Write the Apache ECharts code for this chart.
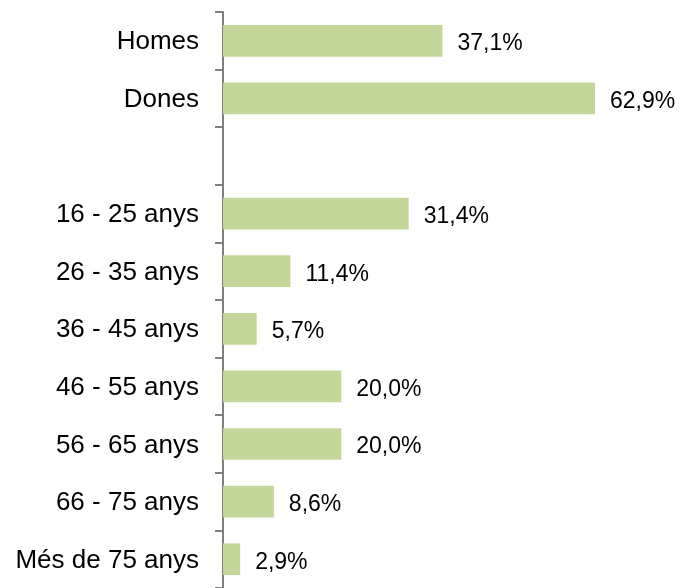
<!DOCTYPE html>
<html>
<head>
<meta charset="utf-8">
<script src="https://cdn.jsdelivr.net/npm/echarts@6/dist/echarts.min.js"></script>
<style>
  html, body { margin: 0; padding: 0; background: #fff; }
  #chart { width: 683px; height: 588px; }
</style>
</head>
<body>
<div id="chart"></div>
<script>
const categories = ['Homes', 'Dones', '', '16 - 25 anys', '26 - 35 anys', '36 - 45 anys',
  '46 - 55 anys', '56 - 65 anys', '66 - 75 anys', 'Més de 75 anys']
const values = [37.1, 62.9, null, 31.4, 11.4, 5.7, 20.0, 20.0, 8.6, 2.9]

const chart = echarts.init(document.getElementById('chart'))
const xMax = 70
const font = "'Liberation Sans', Arial, sans-serif"

chart.setOption({
  animation: false,
  grid: {
    left: 223,
    top: 12,
    height: 580,
    width: 5.914 * xMax,
  },
  xAxis: {
    type: 'value',
    show: false,
    min: 0,
    max: xMax,
  },
  yAxis: {
    type: 'category',
    data: categories,
    inverse: true,
    axisLine: { show: true, lineStyle: { color: '#808080', width: 2 } },
    axisTick: { show: true, length: 8, lineStyle: { color: '#808080', width: 2 } },
    axisLabel: {
      margin: 24,
      color: '#000',
      fontSize: 26,
      fontFamily: font,
      formatter: (v) => v ? '{c|' + v + '}' : '',
      rich: {
        c: { fontSize: 26, fontFamily: font, color: '#000', padding: [3, 0, 0, 0] },
      },
    },
  },
  series: [
    {
      type: 'bar',
      data: values,
      barWidth: '55%',
      itemStyle: { color: '#c4d79b' },
      label: {
        show: true,
        position: 'right',
        distance: 15,
        offset: [0, 3],
        color: '#000',
        fontSize: 23,
        fontFamily: font,
        formatter: (p) => p.value == null ? '' : p.value.toFixed(1).replace('.', ',') + '%',
      },
    },
  ],
})
</script>
</body>
</html>
